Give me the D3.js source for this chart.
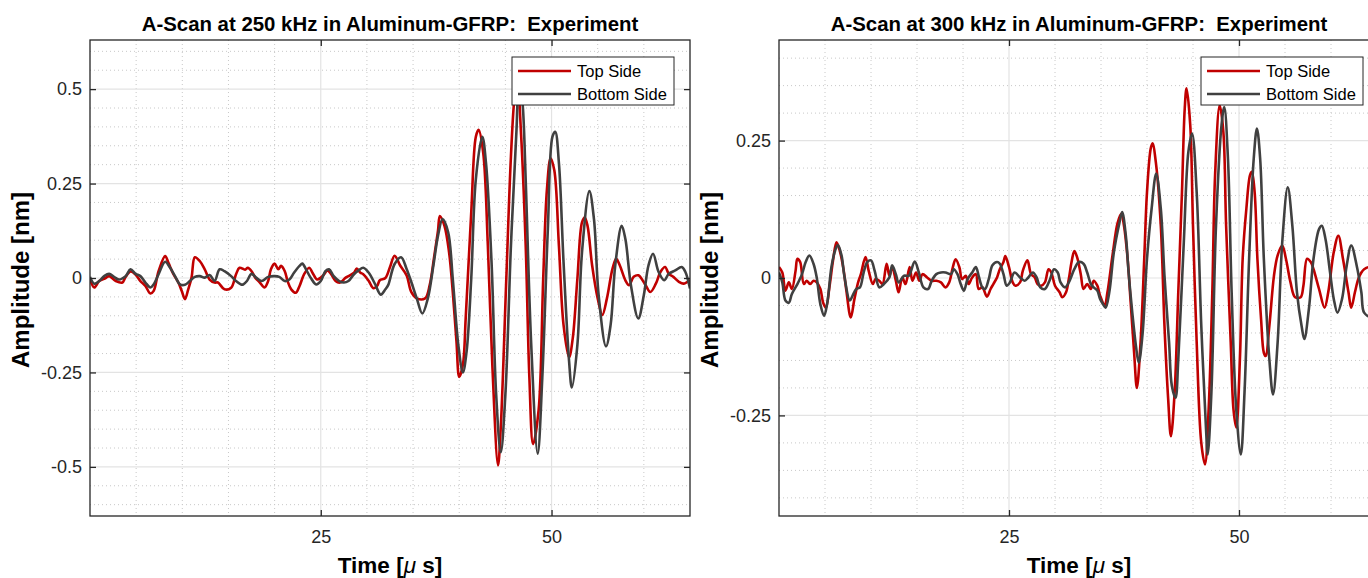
<!DOCTYPE html>
<html>
<head>
<meta charset="utf-8">
<script src="https://cdn.jsdelivr.net/npm/d3@7"></script>
<style>
  body { margin: 0; background: #fff; }
  svg { display: block; font-family: 'Liberation Sans', Arial, sans-serif; }
</style>
</head>
<body>
<svg id="vis" width="1368" height="578"></svg>
<script>
// A-scan samples: [time in µs, amplitude in nm]
const seriesNames = ['Top Side', 'Bottom Side'];
const seriesColors = ['#c00000', '#404040'];

const topSide250 = [
  [0, -0.003], [0.46, -0.025], [1.0, -0.008], [1.7, 0.0], [2.07, 0.005], [2.8, -0.008], [3.5, -0.012],
  [3.86, 0.003], [4.4, 0.017], [4.9, 0.010], [5.46, -0.008], [6.0, -0.021], [6.54, -0.041], [6.9, -0.034],
  [7.43, 0.018], [8.14, 0.058], [8.5, 0.040], [9.04, 0.010], [9.57, -0.012], [9.93, -0.034], [10.29, -0.056],
  [10.64, -0.030], [11.0, 0.001], [11.36, 0.055], [11.89, 0.045], [12.43, 0.023], [12.96, -0.004], [13.5, -0.012],
  [13.86, -0.012], [14.57, -0.030], [15.29, -0.026], [15.82, 0.010], [16.2, 0.027], [16.8, 0.022], [17.1, 0.027],
  [17.5, 0.018], [17.9, 0.001], [18.4, -0.012], [18.9, -0.025], [19.3, -0.008], [19.6, 0.023], [20.0, 0.038],
  [20.4, 0.023], [20.7, 0.032], [21.1, 0.018], [21.4, -0.008], [21.8, -0.030], [22.3, -0.039], [22.7, -0.021],
  [23.2, 0.010], [23.75, 0.027], [24.1, 0.014], [24.6, -0.004], [25.0, 0.001], [25.4, 0.011], [25.7, 0.020],
  [26.1, 0.011], [26.6, -0.008], [27.1, -0.012], [27.7, 0.001], [28.0, 0.005], [28.6, 0.014], [28.9, 0.025],
  [29.3, 0.014], [29.6, 0.010], [30.2, -0.008], [30.7, -0.027], [31.1, -0.021], [31.4, -0.006], [32.0, 0.000],
  [32.5, 0.029], [33.0, 0.059], [33.6, 0.033], [34.3, 0.007], [34.8, -0.037], [35.4, -0.054], [36.3, -0.054],
  [36.8, -0.019], [37.3, 0.059], [37.7, 0.125], [37.9, 0.164], [38.4, 0.138], [38.9, 0.068], [39.3, -0.037],
  [39.7, -0.168], [40.0, -0.262], [40.4, -0.229], [40.7, -0.107], [41.3, 0.173], [41.8, 0.374], [42.1, 0.392],
  [42.6, 0.331], [43.1, 0.086], [43.6, -0.238], [44.2, -0.496], [44.5, -0.395], [45.1, -0.002], [45.6, 0.321],
  [46.0, 0.48], [46.3, 0.52], [46.7, 0.38], [47.2, 0.086], [47.6, -0.264], [48.0, -0.44], [48.6, -0.35],
  [49.1, 0.0], [49.5, 0.234], [49.9, 0.317], [50.3, 0.285], [50.8, 0.085], [51.3, -0.124], [51.9, -0.21],
  [52.3, -0.159], [52.8, -0.002], [53.3, 0.147], [53.6, 0.16], [53.9, 0.138], [54.4, 0.033], [55.0, -0.054],
  [55.5, -0.098], [56.0, -0.054], [56.6, 0.024], [57.0, 0.051], [57.4, 0.033], [58.0, -0.006], [58.4, -0.019],
  [58.9, 0.003], [59.4, 0.007], [60.1, -0.015], [60.7, -0.037], [61.3, -0.015], [61.8, 0.016], [62.3, 0.029],
  [62.7, 0.011], [63.2, 0.003], [63.8, -0.010], [64.3, -0.015], [65.0, -0.005]
];

const bottomSide250 = [
  [0, 0.003], [0.46, -0.015], [1.0, -0.008], [1.54, 0.005], [2.07, 0.011], [2.6, 0.003], [3.14, -0.004],
  [3.86, 0.005], [4.39, 0.023], [4.93, 0.011], [5.46, 0.005], [6.0, -0.012], [6.54, -0.025], [6.89, -0.017],
  [7.43, 0.010], [8.14, 0.043], [8.68, 0.027], [9.21, 0.005], [9.75, -0.017], [10.29, -0.018], [10.82, -0.008],
  [11.36, 0.003], [11.89, 0.005], [12.43, 0.001], [12.96, 0.008], [13.5, -0.008], [14.04, 0.023], [14.57, 0.018],
  [15.29, 0.005], [15.82, -0.008], [16.36, -0.017], [16.6, -0.017], [17.0, -0.008], [17.5, 0.011], [18.0, 0.001],
  [18.6, -0.008], [19.3, 0.003], [20.0, 0.005], [20.5, 0.003], [21.1, -0.008], [21.6, -0.004], [22.1, 0.014],
  [22.7, 0.032], [23.0, 0.038], [23.4, 0.023], [23.9, 0.001], [24.5, -0.017], [25.0, -0.008], [25.5, 0.018],
  [25.9, 0.023], [26.4, 0.005], [27.0, -0.008], [27.5, -0.012], [28.0, -0.008], [28.6, 0.010], [29.1, 0.020],
  [29.6, 0.027], [30.2, 0.014], [30.9, -0.017], [31.5, -0.044], [32.0, -0.030], [32.3, -0.019], [33.0, 0.037],
  [33.7, 0.055], [34.3, 0.024], [34.8, -0.010], [35.4, -0.054], [36.0, -0.094], [36.6, -0.054], [37.2, 0.033],
  [37.7, 0.112], [38.2, 0.156], [38.8, 0.121], [39.3, -0.002], [39.9, -0.177], [40.4, -0.25], [40.8, -0.194],
  [41.3, -0.002], [41.8, 0.262], [42.5, 0.374], [42.9, 0.304], [43.5, 0.042], [44.0, -0.308], [44.5, -0.461],
  [45.0, -0.308], [45.6, 0.085], [46.2, 0.39], [46.5, 0.55], [46.9, 0.45], [47.2, 0.26], [47.8, -0.177],
  [48.5, -0.465], [49.0, -0.263], [49.6, 0.129], [50.1, 0.374], [50.4, 0.387], [50.8, 0.304], [51.3, 0.042],
  [51.9, -0.22], [52.2, -0.29], [52.8, -0.177], [53.3, 0.068], [54.1, 0.23], [54.6, 0.155], [55.1, -0.045],
  [55.9, -0.181], [56.4, -0.124], [56.9, 0.033], [57.6, 0.138], [58.0, 0.103], [58.6, -0.019], [59.4, -0.107],
  [60.0, -0.045], [60.5, 0.033], [61.0, 0.064], [61.6, 0.016], [62.2, -0.006], [62.7, 0.011], [63.4, 0.020],
  [64.1, 0.029], [64.5, 0.016], [65.0, -0.028]
];

const topSide300 = [
  [0, 0.020], [0.36, 0.010], [0.7, -0.023], [1.07, -0.008], [1.4, -0.020], [1.8, 0.013], [2.0, 0.035],
  [2.3, 0.029], [2.7, -0.011], [3.0, -0.005], [3.4, -0.011], [3.75, -0.005], [4.1, -0.008], [4.5, -0.020],
  [4.8, -0.045], [5.1, -0.054], [5.5, -0.014], [5.9, 0.035], [6.25, 0.065], [6.6, 0.050], [7.0, 0.017],
  [7.3, -0.020], [7.8, -0.072], [8.2, -0.038], [8.6, -0.008], [8.9, 0.007], [9.4, 0.038], [9.75, 0.013],
  [10.2, -0.011], [10.5, -0.002], [10.9, -0.005], [11.25, -0.011], [11.7, 0.026], [12.0, 0.004], [12.3, 0.020],
  [12.7, -0.005], [13.0, -0.026], [13.4, 0.001], [13.75, -0.011], [14.2, 0.020], [14.5, -0.005], [14.9, 0.010],
  [15.25, -0.005], [15.6, 0.007], [16.1, 0.001], [16.6, -0.005], [17.1, -0.005], [17.6, -0.008], [18.1, -0.017],
  [18.5, -0.008], [18.9, 0.020], [19.2, 0.034], [19.6, 0.020], [19.9, -0.002], [20.3, 0.004], [20.6, -0.011],
  [21.0, 0.001], [21.4, 0.007], [21.7, -0.020], [22.1, -0.017], [22.6, -0.034], [23.0, -0.020], [23.3, -0.011],
  [23.7, 0.001], [24.0, 0.016], [24.4, 0.029], [24.6, 0.040], [25.0, 0.020], [25.4, -0.008], [25.7, -0.014],
  [26.2, -0.008], [26.5, 0.013], [27.0, 0.032], [27.4, 0.007], [27.8, 0.001], [28.1, -0.011], [28.5, -0.014],
  [28.9, -0.008], [29.3, 0.016], [29.6, 0.010], [30.0, -0.014], [30.5, -0.026], [30.8, -0.035], [31.2, -0.026],
  [31.5, -0.002], [31.8, 0.029], [32.1, 0.049], [32.4, 0.038], [32.8, 0.007], [33.1, -0.020], [33.5, -0.011],
  [33.9, -0.020], [34.2, -0.005], [34.6, -0.014], [34.9, -0.032], [35.4, -0.050], [35.7, -0.026], [36.3, 0.047],
  [36.8, 0.100], [37.2, 0.117], [37.5, 0.095], [37.9, 0.034], [38.2, -0.038], [38.6, -0.136], [38.9, -0.200],
  [39.3, -0.117], [39.7, 0.035], [40.0, 0.156], [40.4, 0.235], [40.6, 0.245], [41.0, 0.205], [41.5, 0.095],
  [41.9, -0.087], [42.3, -0.220], [42.6, -0.288], [43.0, -0.209], [43.4, -0.026], [43.8, 0.156], [44.1, 0.308],
  [44.3, 0.345], [44.7, 0.278], [45.0, 0.095], [45.4, -0.117], [45.9, -0.300], [46.3, -0.339], [46.7, -0.239],
  [47.1, -0.026], [47.4, 0.187], [47.9, 0.314], [48.3, 0.266], [48.6, 0.095], [49.1, -0.117], [49.4, -0.239],
  [49.7, -0.272], [50.1, -0.147], [50.4, 0.035], [50.8, 0.126], [51.2, 0.187], [51.4, 0.193], [51.7, 0.156],
  [52.0, 0.035], [52.4, -0.075], [52.7, -0.136], [52.9, -0.142], [53.3, -0.087], [53.8, 0.004], [54.2, 0.041],
  [54.7, 0.059], [55.1, 0.035], [55.6, -0.008], [56.1, -0.035], [56.7, -0.035], [57.0, -0.014], [57.4, 0.035],
  [57.8, 0.029], [58.1, 0.016], [58.7, -0.020], [59.3, -0.054], [59.7, -0.026], [60.3, 0.047], [60.8, 0.077],
  [61.3, 0.035], [61.9, -0.026], [62.2, -0.054], [62.6, -0.026], [62.96, -0.002], [63.3, 0.010], [63.6, 0.016],
  [64.2, 0.020], [65.0, 0.015]
];

const bottomSide300 = [
  [0, 0.010], [0.36, -0.008], [0.7, -0.041], [1.07, -0.045], [1.4, -0.029], [2.0, -0.011], [2.5, 0.007],
  [2.9, 0.029], [3.3, 0.041], [3.75, 0.026], [4.1, 0.001], [4.5, -0.048], [4.9, -0.069], [5.25, -0.045],
  [5.7, 0.020], [6.1, 0.050], [6.4, 0.060], [6.8, 0.041], [7.1, 0.004], [7.7, -0.041], [8.0, -0.032],
  [8.4, -0.020], [8.8, -0.017], [9.2, 0.010], [9.6, 0.029], [10.0, 0.032], [10.4, 0.013], [10.9, -0.017],
  [11.4, -0.011], [12.0, 0.001], [12.3, 0.023], [12.7, 0.007], [13.0, -0.008], [13.6, 0.004], [14.1, 0.004],
  [14.75, 0.030], [15.2, 0.010], [15.7, -0.017], [16.2, -0.020], [16.6, -0.005], [17.1, 0.007], [17.6, 0.010],
  [18.1, 0.010], [18.7, 0.007], [19.0, 0.016], [19.4, 0.007], [19.75, -0.011], [20.1, -0.023], [20.5, -0.002],
  [21.0, 0.010], [21.4, 0.020], [21.7, 0.004], [22.1, -0.017], [22.4, -0.020], [22.8, -0.002], [23.2, 0.023],
  [23.7, 0.029], [24.0, 0.026], [24.4, 0.007], [24.75, -0.014], [25.1, -0.008], [25.6, 0.010], [26.2, 0.001],
  [26.7, -0.005], [27.1, 0.001], [27.6, 0.010], [28.0, 0.001], [28.4, -0.017], [28.9, -0.020], [29.4, -0.005],
  [29.9, 0.016], [30.3, 0.010], [30.6, -0.008], [31.1, -0.017], [31.5, -0.008], [32.1, 0.016], [32.6, 0.029],
  [33.1, 0.026], [33.5, 0.010], [33.9, -0.011], [34.2, -0.017], [34.6, -0.023], [34.9, -0.038], [35.2, -0.047],
  [35.5, -0.054], [35.9, -0.026], [36.4, 0.047], [37.0, 0.100], [37.3, 0.120], [37.7, 0.077], [38.0, 0.010],
  [38.4, -0.063], [38.8, -0.124], [39.1, -0.154], [39.5, -0.105], [40.0, 0.035], [40.5, 0.126], [41.0, 0.190],
  [41.5, 0.126], [41.9, 0.004], [42.4, -0.117], [42.7, -0.196], [43.1, -0.218], [43.4, -0.148], [44.0, 0.065],
  [44.5, 0.230], [44.9, 0.263], [45.4, 0.156], [45.9, -0.087], [46.4, -0.269], [46.6, -0.321], [47.0, -0.208],
  [47.5, 0.095], [48.1, 0.278], [48.4, 0.311], [48.8, 0.217], [49.2, -0.026], [49.7, -0.239], [50.2, -0.321],
  [50.6, -0.208], [51.1, 0.035], [51.6, 0.217], [51.95, 0.272], [52.3, 0.217], [52.7, 0.035], [53.3, -0.148],
  [53.7, -0.212], [54.2, -0.117], [54.7, 0.065], [55.3, 0.165], [55.8, 0.095], [56.3, -0.026], [56.8, -0.087],
  [57.1, -0.111], [57.6, -0.056], [58.1, 0.035], [58.7, 0.089], [59.0, 0.095], [59.4, 0.071], [59.9, 0.010],
  [60.3, -0.038], [60.7, -0.063], [61.2, -0.038], [61.7, 0.022], [62.2, 0.059], [62.8, 0.022], [63.3, -0.026],
  [63.6, -0.063], [64.3, -0.070], [65.0, -0.050]
];

const xTicks = [25, 50];
const yTicks250 = [-0.5, -0.25, 0, 0.25, 0.5];
const yTicks300 = [-0.25, 0, 0.25];

let svg = d3.select('#vis');

drawPanel({
  id: 'p250',
  left: 90, top: 40, width: 600, height: 476,
  xDomain: [0, 65],
  yDomain: [-0.63, 0.63],
  yTicks: yTicks250,
  title: 'A-Scan at 250 kHz in Aluminum-GFRP:  Experiment',
  series: [topSide250, bottomSide250],
  legendX: 512
});

drawPanel({
  id: 'p300',
  left: 779, top: 40, width: 598, height: 476,
  xDomain: [0, 65],
  yDomain: [-0.433, 0.433],
  yTicks: yTicks300,
  title: 'A-Scan at 300 kHz in Aluminum-GFRP:  Experiment',
  series: [topSide300, bottomSide300],
  legendX: 1201
});

function drawPanel(info) {
  let w = info.width;
  let h = info.height;

  let x = d3.scaleLinear().domain(info.xDomain).range([0, w]);
  let y = d3.scaleLinear().domain(info.yDomain).range([h, 0]);

  let g = svg.append('g')
    .attr('transform', `translate(${info.left},${info.top})`);

  g.append('clipPath')
    .attr('id', `${info.id}-clip`)
    .append('rect')
    .attr('width', w)
    .attr('height', h);

  // minor grid (dotted)
  let xMinor = d3.range(5, info.xDomain[1], 5).filter((v) => { return xTicks.indexOf(v) < 0; });
  let yMinor = d3.range(-60, 61, 5).map((v) => { return v / 100; })
    .filter((v) => { return v > info.yDomain[0] && v < info.yDomain[1]; })
    .filter((v) => { return !info.yTicks.some((t) => { return Math.abs(t - v) < 1e-6; }); });

  let grid = g.append('g').attr('class', 'grid');

  grid.selectAll('.xminor')
    .data(xMinor)
    .enter().append('line')
    .attr('x1', (d) => { return x(d); })
    .attr('x2', (d) => { return x(d); })
    .attr('y1', 0)
    .attr('y2', h)
    .attr('stroke', '#c8c8c8')
    .attr('stroke-width', 1)
    .attr('stroke-dasharray', '1,3');

  grid.selectAll('.yminor')
    .data(yMinor)
    .enter().append('line')
    .attr('x1', 0)
    .attr('x2', w)
    .attr('y1', (d) => { return y(d); })
    .attr('y2', (d) => { return y(d); })
    .attr('stroke', '#c8c8c8')
    .attr('stroke-width', 1)
    .attr('stroke-dasharray', '1,3');

  // major grid
  grid.selectAll('.xmajor')
    .data(xTicks)
    .enter().append('line')
    .attr('x1', (d) => { return x(d); })
    .attr('x2', (d) => { return x(d); })
    .attr('y1', 0)
    .attr('y2', h)
    .attr('stroke', '#e3e3e3')
    .attr('stroke-width', 1.2);

  grid.selectAll('.ymajor')
    .data(info.yTicks)
    .enter().append('line')
    .attr('x1', 0)
    .attr('x2', w)
    .attr('y1', (d) => { return y(d); })
    .attr('y2', (d) => { return y(d); })
    .attr('stroke', '#e3e3e3')
    .attr('stroke-width', 1.2);

  // traces
  let line = d3.line()
    .x((d) => { return x(d[0]); })
    .y((d) => { return y(d[1]); })
    .curve(d3.curveCatmullRom.alpha(0.5));

  let traces = g.append('g').attr('clip-path', `url(#${info.id}-clip)`);

  info.series.forEach((data, i) => {
    traces.append('path')
      .datum(data)
      .attr('fill', 'none')
      .attr('stroke', seriesColors[i])
      .attr('stroke-width', 2.6)
      .attr('stroke-linejoin', 'round')
      .attr('d', line);
  });

  // axes, ticks pointing inward like the original
  let tickSize = 6;
  let axisColor = '#262626';

  let xAxisB = g.append('g').attr('transform', `translate(0,${h})`)
    .call(d3.axisBottom(x).tickValues(xTicks).tickSize(-tickSize).tickPadding(14).tickFormat(d3.format('d')));
  let xAxisT = g.append('g')
    .call(d3.axisTop(x).tickValues(xTicks).tickSize(-tickSize).tickFormat(''));
  let yAxisL = g.append('g')
    .call(d3.axisLeft(y).tickValues(info.yTicks).tickSize(-tickSize).tickPadding(8).tickFormat((d) => { return String(d); }));
  let yAxisR = g.append('g').attr('transform', `translate(${w},0)`)
    .call(d3.axisRight(y).tickValues(info.yTicks).tickSize(-tickSize).tickFormat(''));

  [xAxisB, xAxisT, yAxisL, yAxisR].forEach((a) => {
    a.select('.domain').remove();
    a.selectAll('line').attr('stroke', axisColor).attr('stroke-width', 1.3);
    a.selectAll('text')
      .attr('fill', '#262626')
      .style('font-size', '18px')
      .style('font-family', "'Liberation Sans', Arial, sans-serif");
  });

  g.append('rect')
    .attr('width', w)
    .attr('height', h)
    .attr('fill', 'none')
    .attr('stroke', axisColor)
    .attr('stroke-width', 1.3);

  // title and labels
  svg.append('text')
    .attr('x', info.left + 300)
    .attr('y', 31)
    .attr('text-anchor', 'middle')
    .style('font-weight', 'bold')
    .style('font-size', '20.4px')
    .style('white-space', 'pre')
    .attr('fill', '#000')
    .text(info.title);

  let xl = svg.append('text')
    .attr('x', info.left + 300)
    .attr('y', 573)
    .attr('text-anchor', 'middle')
    .style('font-weight', 'bold')
    .style('font-size', '22.5px')
    .attr('fill', '#000');
  xl.append('tspan').text('Time [');
  xl.append('tspan').style('font-style', 'italic').style('font-weight', 'normal').text('\u03bc');
  xl.append('tspan').text(' s]');

  svg.append('text')
    .attr('transform', `translate(${info.left - 61},${info.top + h / 2 + 2}) rotate(-90)`)
    .attr('text-anchor', 'middle')
    .style('font-weight', 'bold')
    .style('font-size', '24px')
    .attr('fill', '#000')
    .text('Amplitude [nm]');

  // legend
  let lg = svg.append('g').attr('transform', `translate(${info.legendX},57)`);

  lg.append('rect')
    .attr('width', 162)
    .attr('height', 48)
    .attr('fill', '#fff')
    .attr('stroke', axisColor)
    .attr('stroke-width', 1);

  seriesNames.forEach((name, i) => {
    let ly = 14 + i * 23;
    lg.append('line')
      .attr('x1', 6)
      .attr('x2', 59)
      .attr('y1', ly)
      .attr('y2', ly)
      .attr('stroke', seriesColors[i])
      .attr('stroke-width', 2.6);
    lg.append('text')
      .attr('x', 65)
      .attr('y', ly + 5.5)
      .style('font-size', '16.5px')
      .attr('fill', '#000')
      .text(name);
  });
}
</script>
</body>
</html>
